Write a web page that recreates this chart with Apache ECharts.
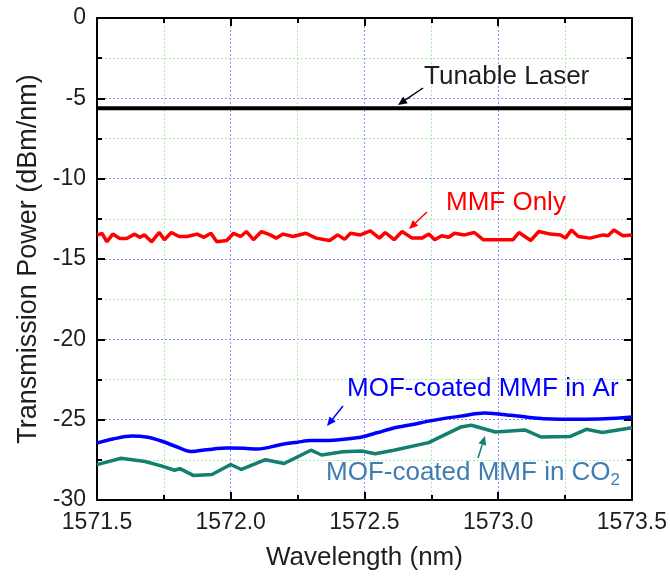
<!DOCTYPE html>
<html>
<head>
<meta charset="utf-8">
<script src="https://cdn.jsdelivr.net/npm/echarts@6/dist/echarts.min.js"></script>
<style>
  html, body { margin: 0; padding: 0; background: #fff; }
  #main_chart { width: 670px; height: 580px; }
</style>
</head>
<body>
<div id="main_chart"></div>
<script>
// wavelength (nm) / power (dBm/nm)
var wlLaser = [1571.5, 1573.5];
var pLaser = [-5.62, -5.62];

var wlMMF = [1571.5, 1571.519, 1571.537, 1571.559, 1571.585, 1571.611, 1571.641, 1571.659, 1571.678, 1571.704,
  1571.733, 1571.752, 1571.778, 1571.807, 1571.837, 1571.874, 1571.9, 1571.926, 1571.948, 1571.985,
  1572.011, 1572.037, 1572.059, 1572.085, 1572.115, 1572.148, 1572.17, 1572.196, 1572.233, 1572.281,
  1572.319, 1572.37, 1572.4, 1572.426, 1572.448, 1572.485, 1572.522, 1572.556, 1572.578, 1572.611,
  1572.641, 1572.678, 1572.715, 1572.741, 1572.763, 1572.789, 1572.815, 1572.837, 1572.874, 1572.911,
  1572.944, 1572.985, 1573.056, 1573.078, 1573.122, 1573.152, 1573.196, 1573.233, 1573.252, 1573.274,
  1573.3, 1573.344, 1573.393, 1573.411, 1573.433, 1573.467, 1573.5];
var pMMF = [-13.51, -13.4, -13.93, -13.45, -13.72, -13.72, -13.45, -13.65, -13.5, -13.93,
  -13.35, -13.8, -13.35, -13.6, -13.6, -13.45, -13.65, -13.4, -13.93, -13.85,
  -13.4, -13.6, -13.29, -13.8, -13.29, -13.5, -13.7, -13.45, -13.6, -13.4,
  -13.7, -13.85, -13.5, -13.78, -13.4, -13.5, -13.25, -13.7, -13.35, -13.8,
  -13.29, -13.7, -13.7, -13.45, -13.8, -13.55, -13.65, -13.4, -13.5, -13.35,
  -13.8, -13.8, -13.8, -13.35, -13.85, -13.29, -13.45, -13.5, -13.7, -13.2,
  -13.6, -13.7, -13.5, -13.55, -13.2, -13.55, -13.5];

var wlAr = [1571.5, 1571.56, 1571.63, 1571.69, 1571.74, 1571.8, 1571.85, 1571.92, 1571.99, 1572.05,
  1572.1, 1572.19, 1572.25, 1572.3, 1572.36, 1572.43, 1572.49, 1572.55, 1572.61, 1572.68,
  1572.74, 1572.8, 1572.86, 1572.95, 1573.05, 1573.11, 1573.17, 1573.3, 1573.4, 1573.5];
var pAr = [-26.45, -26.2, -26.02, -26.1, -26.33, -26.7, -26.98, -26.85, -26.77, -26.78,
  -26.83, -26.54, -26.4, -26.3, -26.3, -26.2, -26.08, -25.8, -25.52, -25.3,
  -25.09, -24.92, -24.78, -24.59, -24.73, -24.85, -24.94, -24.98, -24.95, -24.84];

var wlCO2 = [1571.5, 1571.59, 1571.68, 1571.74, 1571.79, 1571.81, 1571.86, 1571.93, 1572.0, 1572.04,
  1572.13, 1572.2, 1572.3, 1572.34, 1572.42, 1572.49, 1572.54, 1572.61, 1572.74, 1572.86,
  1572.9, 1572.99, 1573.1, 1573.16, 1573.27, 1573.33, 1573.39, 1573.5];
var pCO2 = [-27.8, -27.4, -27.6, -27.88, -28.15, -28.05, -28.47, -28.41, -27.79, -28.1,
  -27.49, -27.73, -26.9, -27.2, -27.0, -26.95, -27.12, -26.9, -26.43, -25.46,
  -25.35, -25.77, -25.64, -26.08, -26.04, -25.6, -25.8, -25.5];

var xTicks = { min: 1571.5, max: 1573.5, step: 0.5 };
var yTicks = { min: -30, max: 0, step: 5 };

function zip(a, b) {
  return a.map(function (v, i) { return [v, b[i]]; });
}

var FONT = '"Liberation Sans", Arial, sans-serif';
var TXT = '#1e1e1e';

// arrow: line from tail to head plus a filled head
function arrow(tail, head, color) {
  var dx = head[0] - tail[0], dy = head[1] - tail[1];
  var len = Math.sqrt(dx * dx + dy * dy);
  var ux = dx / len, uy = dy / len;
  var hl = 9, hw = 4;
  var bx = head[0] - ux * hl, by = head[1] - uy * hl;
  return [{
    type: 'line',
    shape: { x1: tail[0], y1: tail[1], x2: bx, y2: by },
    style: { stroke: color, lineWidth: 1.5 },
    z: 100
  }, {
    type: 'polygon',
    shape: { points: [head, [bx - uy * hw, by + ux * hw], [bx + uy * hw, by - ux * hw]] },
    style: { fill: color },
    z: 100
  }];
}

function label(x, y, text, color, rich) {
  return {
    type: 'text', x: x, y: y, z: 100,
    style: {
      text: text, fill: color, font: '26px ' + FONT,
      verticalAlign: 'middle', rich: rich
    }
  };
}

var chart = echarts.init(document.getElementById('main_chart'));

var tickStyle = { show: true, inside: true, length: 8, lineStyle: { color: '#000', width: 2 } };
var minorStyle = { show: true, splitNumber: 2, length: 5, lineStyle: { color: '#000', width: 2 } };
var lineStyleAxis = { show: true, onZero: false, lineStyle: { color: '#000', width: 2 } };

var graphics = []
  .concat(arrow([423, 88], [398, 105], '#000'))
  .concat(arrow([427, 212], [409, 229], '#ff0000'))
  .concat(arrow([343, 406], [327, 426], '#0000ff'))
  .concat(arrow([478, 458], [485, 436], '#13806f'));
graphics.push(label(424, 77, 'Tunable Laser', TXT));
graphics.push(label(446, 203, 'MMF Only', '#ff0000'));
graphics.push(label(347, 389, 'MOF-coated MMF in Ar', '#0000ff'));
graphics.push(label(326, 473, 'MOF-coated MMF in CO{s|2}', '#3f7cb2', {
  s: { font: '17px ' + FONT, fill: '#3f7cb2', verticalAlign: 'bottom', padding: [14, 0, 0, 0] }
}));

chart.setOption({
  animation: false,
  grid: { left: 97, right: 33, top: 18, bottom: 80 },
  xAxis: [{
    type: 'value', position: 'bottom',
    min: xTicks.min, max: xTicks.max, interval: xTicks.step,
    name: 'Wavelength (nm)', nameLocation: 'middle', nameGap: 45,
    nameTextStyle: { fontFamily: FONT, fontSize: 26, color: TXT },
    axisLine: lineStyleAxis, axisTick: tickStyle, minorTick: minorStyle,
    axisLabel: {
      margin: 11, fontFamily: FONT, fontSize: 23, color: TXT,
      formatter: function (v) { return v.toFixed(1); }
    },
    splitLine: { show: true, lineStyle: { color: '#8f8fff', type: [2, 2], width: 1 } },
    minorSplitLine: { show: true, lineStyle: { color: '#a8eca8', type: [2, 2], width: 1 } }
  }, {
    type: 'value', position: 'top',
    min: xTicks.min, max: xTicks.max, interval: xTicks.step,
    axisLine: lineStyleAxis, axisTick: tickStyle, minorTick: minorStyle,
    axisLabel: { show: false }, splitLine: { show: false }
  }],
  yAxis: [{
    type: 'value', position: 'left',
    min: yTicks.min, max: yTicks.max, interval: yTicks.step,
    name: 'Transmission Power (dBm/nm)', nameLocation: 'middle', nameGap: 52,
    nameTextStyle: { fontFamily: FONT, fontSize: 27, color: TXT },
    axisLine: lineStyleAxis, axisTick: tickStyle, minorTick: minorStyle,
    axisLabel: { margin: 11, fontFamily: FONT, fontSize: 23, color: TXT },
    splitLine: { show: true, lineStyle: { color: '#8f8fff', type: [2, 2], width: 1 } },
    minorSplitLine: { show: true, lineStyle: { color: '#a8eca8', type: [2, 2], width: 1 } }
  }, {
    type: 'value', position: 'right',
    min: yTicks.min, max: yTicks.max, interval: yTicks.step,
    axisLine: lineStyleAxis, axisTick: tickStyle, minorTick: minorStyle,
    axisLabel: { show: false }, splitLine: { show: false }
  }],
  series: [{
    name: 'Tunable Laser', type: 'line', data: zip(wlLaser, pLaser),
    showSymbol: false, lineStyle: { color: '#000', width: 4 }, z: 3
  }, {
    name: 'MMF Only', type: 'line', data: zip(wlMMF, pMMF),
    showSymbol: false, lineStyle: { color: '#ff0000', width: 3.5 }, z: 3
  }, {
    name: 'MOF-coated MMF in Ar', type: 'line', data: zip(wlAr, pAr),
    showSymbol: false, smooth: 0.3, lineStyle: { color: '#0000ff', width: 3.5 }, z: 3
  }, {
    name: 'MOF-coated MMF in CO2', type: 'line', data: zip(wlCO2, pCO2),
    showSymbol: false, lineStyle: { color: '#13806f', width: 3.5 }, z: 3
  }],
  graphic: graphics
});

window.addEventListener('resize', function () { chart.resize(); });
</script>
</body>
</html>
